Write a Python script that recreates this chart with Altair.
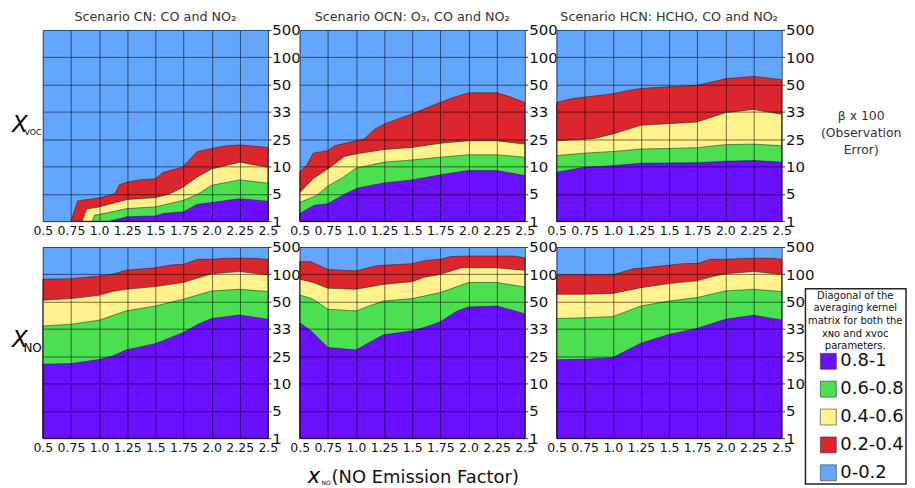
import altair as alt
import pandas as pd

# ---------------- data ----------------
LEVELS = ["0.8-1", "0.6-0.8", "0.4-0.6", "0.2-0.4", "0-0.2"]
COLORS = ["#6A0FFF", "#4CDF50", "#FFF28C", "#DC262E", "#62A6FF"]

Y_TICKS = [0, 1, 2, 3, 4, 5, 6, 7]
Y_TICK_LABELS = ["1", "5", "10", "25", "33", "50", "100", "500"]
X_TICKS = [0.5, 0.75, 1.0, 1.25, 1.5, 1.75, 2.0, 2.25, 2.5]
X_TICK_LABELS = ["0.5", "0.75", "1.0", "1.25", "1.5", "1.75", "2.0", "2.25", "2.5"]

TITLES = ["Scenario CN: CO and NO₂", "Scenario OCN: O₃, CO and NO₂",
          "Scenario HCN: HCHO, CO and NO₂"]

# whole domain (class 0-0.2 fills everything above the red class)
FULL = [(0.5, 7.0), (2.5, 7.0)]

# --- X_VOC row: upper boundary of each class (x, y-index) ---
CN_VOC_RED = [(0.75, 0.0), (0.81, 0.74), (1.0, 0.85), (1.14, 1.0), (1.18, 1.33), (1.25, 1.43),
              (1.36, 1.51), (1.5, 1.55), (1.57, 1.79), (1.74, 1.97), (1.87, 2.54), (2.0, 2.66),
              (2.12, 2.75), (2.25, 2.79), (2.5, 2.7)]
CN_VOC_YELLOW = [(0.85, 0.0), (0.89, 0.44), (1.0, 0.52), (1.25, 0.79), (1.5, 0.86), (1.63, 1.0),
                 (1.75, 1.25), (1.87, 1.61), (2.0, 1.91), (2.25, 2.16), (2.5, 1.97)]
CN_VOC_GREEN = [(0.94, 0.0), (0.96, 0.22), (1.0, 0.24), (1.25, 0.46), (1.5, 0.52), (1.75, 0.76),
                (1.87, 0.97), (2.0, 1.31), (2.25, 1.51), (2.5, 1.39)]
CN_VOC_PURPLE = [(1.1, 0.0), (1.25, 0.16), (1.5, 0.19), (1.57, 0.28), (1.75, 0.34), (1.87, 0.61),
                 (2.0, 0.68), (2.25, 0.82), (2.5, 0.73)]

OCN_VOC_RED = [(0.5, 1.82), (0.56, 2.03), (0.62, 2.49), (0.75, 2.58), (0.81, 2.76), (1.0, 2.94),
               (1.07, 3.0), (1.17, 3.37), (1.26, 3.57), (1.49, 3.91), (1.69, 4.25), (1.86, 4.52),
               (2.0, 4.70), (2.25, 4.70), (2.37, 4.55), (2.5, 4.34)]
OCN_VOC_YELLOW = [(0.5, 1.04), (0.62, 1.55), (0.75, 1.91), (0.9, 2.37), (1.0, 2.46), (1.25, 2.62),
                  (1.5, 2.70), (1.75, 2.85), (2.0, 2.94), (2.25, 2.94), (2.5, 2.82)]
OCN_VOC_GREEN = [(0.5, 0.68), (0.65, 0.94), (0.75, 1.28), (0.88, 1.59), (1.0, 1.94), (1.25, 2.16),
                 (1.5, 2.24), (1.75, 2.34), (2.0, 2.43), (2.25, 2.43), (2.5, 2.34)]
OCN_VOC_PURPLE = [(0.5, 0.28), (0.63, 0.58), (0.75, 0.64), (0.88, 0.94), (1.0, 1.19), (1.06, 1.25),
                  (1.25, 1.40), (1.5, 1.51), (1.69, 1.65), (1.8, 1.73), (2.0, 1.85), (2.25, 1.85),
                  (2.5, 1.67)]

HCN_VOC_RED = [(0.5, 4.34), (0.63, 4.48), (0.75, 4.54), (0.87, 4.60), (1.0, 4.66), (1.11, 4.76),
               (1.25, 4.86), (1.5, 4.92), (1.75, 4.97), (2.0, 5.21), (2.25, 5.30), (2.5, 5.18)]
HCN_VOC_YELLOW = [(0.5, 2.94), (0.75, 3.0), (0.84, 3.03), (1.0, 3.19), (1.25, 3.51), (1.5, 3.57),
                  (1.75, 3.63), (2.0, 3.97), (2.25, 4.09), (2.5, 3.91)]
HCN_VOC_GREEN = [(0.5, 2.40), (0.75, 2.49), (1.0, 2.55), (1.25, 2.64), (1.5, 2.66), (1.75, 2.69),
                 (2.0, 2.80), (2.25, 2.82), (2.5, 2.76)]
HCN_VOC_PURPLE = [(0.5, 1.79), (0.75, 1.97), (1.0, 2.03), (1.25, 2.12), (1.5, 2.13), (1.75, 2.14),
                  (2.0, 2.19), (2.25, 2.22), (2.5, 2.16)]

# --- X_NO row ---
CN_NO_RED = [(0.5, 5.82), (0.75, 5.84), (1.0, 5.94), (1.12, 6.0), (1.24, 6.15), (1.5, 6.24),
             (1.64, 6.34), (1.75, 6.37), (1.88, 6.55), (2.0, 6.55), (2.14, 6.59), (2.35, 6.59),
             (2.5, 6.55)]
CN_NO_YELLOW = [(0.5, 5.05), (0.75, 5.11), (1.0, 5.23), (1.12, 5.37), (1.24, 5.45), (1.5, 5.55),
                (1.75, 5.70), (2.0, 6.02), (2.25, 6.10), (2.5, 5.98)]
CN_NO_GREEN = [(0.5, 4.11), (0.75, 4.17), (1.0, 4.32), (1.24, 4.66), (1.5, 4.84), (1.75, 5.09),
               (2.0, 5.39), (2.25, 5.45), (2.5, 5.37)]
CN_NO_PURPLE = [(0.5, 2.71), (0.75, 2.73), (1.0, 2.88), (1.12, 3.01), (1.24, 3.23), (1.5, 3.46),
                (1.75, 3.87), (1.88, 4.17), (2.0, 4.38), (2.25, 4.51), (2.5, 4.35)]

OCN_NO_RED = [(0.5, 6.46), (0.6, 6.46), (0.75, 6.18), (1.0, 6.12), (1.17, 6.30), (1.24, 6.33),
              (1.5, 6.39), (1.62, 6.51), (1.75, 6.55), (1.84, 6.65), (2.0, 6.67), (2.25, 6.67),
              (2.4, 6.67), (2.5, 6.61)]
OCN_NO_YELLOW = [(0.5, 5.82), (0.62, 5.70), (0.75, 5.49), (1.0, 5.45), (1.24, 5.63), (1.5, 5.73),
                 (1.6, 5.88), (1.75, 6.0), (1.94, 6.24), (2.0, 6.24), (2.25, 6.24), (2.4, 6.18),
                 (2.5, 6.15)]
OCN_NO_GREEN = [(0.5, 5.24), (0.62, 5.09), (0.75, 4.72), (1.0, 4.66), (1.24, 5.02), (1.5, 5.11),
                (1.75, 5.33), (2.0, 5.70), (2.25, 5.70), (2.5, 5.54)]
OCN_NO_PURPLE = [(0.5, 4.23), (0.6, 3.93), (0.75, 3.32), (1.0, 3.23), (1.24, 3.78), (1.5, 3.93),
                 (1.62, 4.07), (1.75, 4.26), (1.9, 4.66), (2.0, 4.80), (2.25, 4.84), (2.5, 4.56)]

HCN_NO_RED = [(0.5, 5.98), (1.0, 5.98), (1.19, 6.21), (1.25, 6.22), (1.42, 6.30), (1.5, 6.33),
              (1.62, 6.39), (1.75, 6.40), (1.87, 6.55), (2.0, 6.55), (2.25, 6.59), (2.42, 6.59),
              (2.5, 6.55)]
HCN_NO_YELLOW = [(0.5, 5.27), (0.75, 5.27), (1.0, 5.30), (1.25, 5.51), (1.5, 5.66), (1.75, 5.76),
                 (1.87, 5.90), (2.0, 6.02), (2.25, 6.10), (2.5, 6.0)]
HCN_NO_GREEN = [(0.5, 4.38), (0.75, 4.41), (1.0, 4.45), (1.25, 4.84), (1.5, 5.02), (1.75, 5.15),
                (2.0, 5.39), (2.25, 5.45), (2.5, 5.37)]
HCN_NO_PURPLE = [(0.5, 2.87), (0.75, 2.89), (1.0, 2.95), (1.25, 3.48), (1.5, 3.80), (1.75, 4.02),
                 (2.0, 4.35), (2.25, 4.50), (2.5, 4.33)]

# ---------------- chart ----------------
W, H = 226, 192
FONT = "DejaVu Sans"

y_expr = "[" + ",".join("'%s'" % s for s in Y_TICK_LABELS) + "][round(datum.value)]"
x_expr = "[" + ",".join("'%s'" % s for s in X_TICK_LABELS) + "][round((datum.value-0.5)*4)]"

x_axis = alt.Axis(values=X_TICKS, labelExpr=x_expr, title=None, grid=True, gridColor="black",
                  gridOpacity=0.55, gridWidth=1, domain=False, ticks=False, labelPadding=3,
                  labelFontSize=12.5, labelColor="#111", labelFlush=False, labelOverlap=False,
                  zindex=1)
y_axis = alt.Axis(values=Y_TICKS, labelExpr=y_expr, orient="right", title=None, grid=True,
                  gridColor="black", gridOpacity=0.55, gridWidth=1, domain=False, tickSize=3,
                  tickColor="#333", labelPadding=1, labelFontSize=15, labelColor="#111",
                  labelFlush=False, labelOverlap=False, zindex=1)

legend = alt.Legend(orient="none", legendX=766, legendY=260,
                    title=["Diagonal of the", "averaging kernel", "matrix for both the",
                           "xɴᴏ  and  xᴠᴏᴄ", "parameters."],
                    values=LEVELS)


def area(points, level, with_stroke=True):
    df = pd.DataFrame({"x": [p[0] for p in points], "y": [p[1] for p in points], "level": level})
    kw = dict(stroke="#1a1a1a", strokeWidth=0.7, strokeOpacity=0.75) if with_stroke else dict(strokeWidth=0)
    return alt.Chart(df).mark_area(opacity=1, **kw).encode(
        x=alt.X("x:Q", scale=alt.Scale(domain=[0.5, 2.5], nice=False, zero=False), axis=x_axis),
        y=alt.Y("y:Q", scale=alt.Scale(domain=[0, 7], nice=False), axis=y_axis, stack=None),
        color=alt.Color("level:N", scale=alt.Scale(domain=LEVELS, range=COLORS), legend=legend),
    )


def text(t, x, y, size, style="normal", align="left", baseline="alphabetic", color="black",
         line_height=None):
    kw = dict(fontSize=size, fontStyle=style, align=align, baseline=baseline, color=color,
              font=FONT)
    if line_height:
        kw["lineHeight"] = line_height
        kw["lineBreak"] = "\n"
    return alt.Chart(pd.DataFrame({"t": [t]})).mark_text(**kw).encode(
        text="t:N", x=alt.value(x), y=alt.value(y))


def panel(red, yellow, green, purple, title=None, extras=()):
    layers = [area(FULL, "0-0.2", False), area(red, "0.2-0.4"), area(yellow, "0.4-0.6"),
              area(green, "0.6-0.8"), area(purple, "0.8-1")] + list(extras)
    ch = alt.layer(*layers).properties(width=W, height=H)
    if title:
        ch = ch.properties(title=alt.TitleParams(title, fontSize=12.8, fontWeight="normal",
                                                 color="#333", anchor="middle", frame="group",
                                                 offset=-1, font=FONT))
    return ch


p1 = panel(CN_VOC_RED, CN_VOC_YELLOW, CN_VOC_GREEN, CN_VOC_PURPLE, TITLES[0],
           extras=[text("X", -31, 102, 23, style="italic"), text("VOC", -18.5, 105, 8)])
p2 = panel(OCN_VOC_RED, OCN_VOC_YELLOW, OCN_VOC_GREEN, OCN_VOC_PURPLE, TITLES[1])
p3 = panel(HCN_VOC_RED, HCN_VOC_YELLOW, HCN_VOC_GREEN, HCN_VOC_PURPLE, TITLES[2],
           extras=[text("β x 100\n(Observation\nError)", 306, 86, 12.5, align="center",
                        baseline="middle", color="#333", line_height=17.5)])
p4 = panel(CN_NO_RED, CN_NO_YELLOW, CN_NO_GREEN, CN_NO_PURPLE,
           extras=[text("X", -31, 100, 23, style="italic"), text("NO", -19.5, 105, 12)])
p5 = panel(OCN_NO_RED, OCN_NO_YELLOW, OCN_NO_GREEN, OCN_NO_PURPLE,
           extras=[text("x", 8, 237, 21, style="italic"), text("NO", 22, 239, 6),
                   text("(NO Emission Factor)", 32, 237, 18, color="#111")])
p6 = panel(HCN_NO_RED, HCN_NO_YELLOW, HCN_NO_GREEN, HCN_NO_PURPLE)

chart = alt.concat(p1, p2, p3, p4, p5, p6, columns=3, spacing={"row": 26, "column": 32},
                   bounds="flush").configure(
    font=FONT, padding={"left": 3, "top": 1, "right": 0, "bottom": 0}
).configure_view(stroke="#777", strokeWidth=1).configure_legend(
    titleFontSize=10, titleFontWeight="normal", titleColor="#111", titleAlign="center",
    titleAnchor="middle", titleLineHeight=12.7, titleLimit=300, titlePadding=1,
    labelFontSize=18, labelColor="#111", labelOffset=3, labelLimit=200,
    symbolType="square", symbolSize=256, symbolStrokeColor="#333", symbolStrokeWidth=0.6,
    symbolOpacity=1, symbolOffset=12, rowPadding=8, padding=2,
    strokeColor="#222", strokeWidth=1.5, fillColor="white", cornerRadius=0,
)

chart.save("out.html", embed_options={"renderer": "svg", "actions": False})
